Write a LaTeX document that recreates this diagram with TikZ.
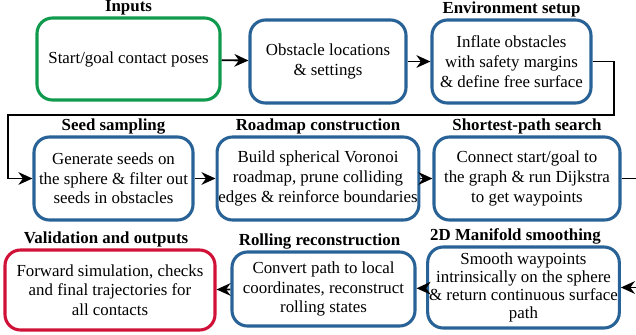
\documentclass[tikz,border=0pt]{standalone}
\usepackage{fontspec}
\setmainfont{Liberation Serif}
\definecolor{StageBlue}{RGB}{40, 98, 150}
\definecolor{InGreen}{RGB}{16, 154, 78}
\definecolor{OutRed}{RGB}{208, 18, 56}
\usepackage{tikz}
\usetikzlibrary{arrows.meta, positioning, calc}

\tikzset{
    stage/.style={draw=StageBlue, line width=2.2pt, rounded corners=11pt, align=center,
        inner sep=1pt, font=\fontsize{12}{14}\selectfont},
    ttl/.style={font=\fontsize{12}{14}\selectfont\bfseries, inner sep=1pt},
    flow/.style={line width=1.3pt, -{Stealth[length=10pt, width=9pt]}}
}

\begin{document}
\begin{tikzpicture}[x=0.25mm, y=-0.25mm]
                \useasboundingbox (0,0) rectangle (636,334);

                % First row
                \node[stage, draw=InGreen, minimum width=45.75mm, minimum height=20.5mm] (inputs) at (128.5,59) {Start/goal contact poses};
                \node[stage, minimum width=39mm, minimum height=20.75mm] (obst) at (328,61.5) {Obstacle locations\\\& settings};
                \node[stage, minimum width=39.75mm, minimum height=20.75mm] (env) at (511.5,61.5) {Inflate obstacles\\with safety margins\\\& define free surface};

                % Second row
                \node[stage, minimum width=39.75mm, minimum height=20.75mm] (seed) at (113.5,178.5) {Generate seeds on\\the sphere \& filter out\\seeds in obstacles};
                \node[stage, minimum width=48mm, minimum height=20.75mm] (road) at (318,178.5) {Build spherical Voronoi\\roadmap, prune colliding\\edges \& reinforce boundaries};
                \node[stage, minimum width=46.5mm, minimum height=20.75mm] (short) at (527,178.5) {Connect start/goal to\\the graph \& run Dijkstra\\to get waypoints};

                % Third row
                \node[stage, minimum width=47.25mm, minimum height=20.25mm, font=\fontsize{12}{13}\selectfont] (mani) at (523.5,287.5) {Smooth waypoints\\intrinsically on the sphere\\\& return continuous surface\\path};
                \node[stage, minimum width=45.75mm, minimum height=18.5mm] (roll) at (323.5,289) {Convert path to local\\coordinates, reconstruct\\rolling states};
                \node[stage, draw=OutRed, minimum width=52.5mm, minimum height=20mm] (valid) at (110,290) {Forward simulation, checks\\and final trajectories for\\all contacts};

                % Titles
                \node[ttl, above=0pt of inputs] (tin) {Inputs};
                \node[ttl, above=0pt of env] (tenv) {Environment setup};
                \node[ttl, above=0pt of seed] (tseed) {Seed sampling};
                \node[ttl, above=0pt of road] (troad) {Roadmap construction};
                \node[ttl, above=0pt of short] (tshort) {Shortest-path search};
                \node[ttl, above=0pt of mani, xshift=-2mm] (tmani) {2D Manifold smoothing};
                \node[ttl, above=0pt of roll, xshift=-1mm] (troll) {Rolling reconstruction};
                \node[ttl, above=0pt of valid, xshift=-1mm] (tvalid) {Validation and outputs};

                % Bends
                \coordinate (r1) at (614,115);
                \coordinate (l1) at (8,115);
                \coordinate (r2) at (660,230);

                % Arrows
                \draw[flow] (inputs) -- (obst);
                \draw[flow] (obst) -- (env);
                \draw[flow] (env.east) -| (r1) -- (l1) |- (seed.west);
                \draw[flow] (seed) -- (road);
                \draw[flow] (road) -- (short);
                \draw[flow] (short.east) -| (r2) |- (mani.east);
                \draw[flow] (mani) -- (roll);
                \draw[flow] (roll) -- (valid);
            \end{tikzpicture}
\end{document}
